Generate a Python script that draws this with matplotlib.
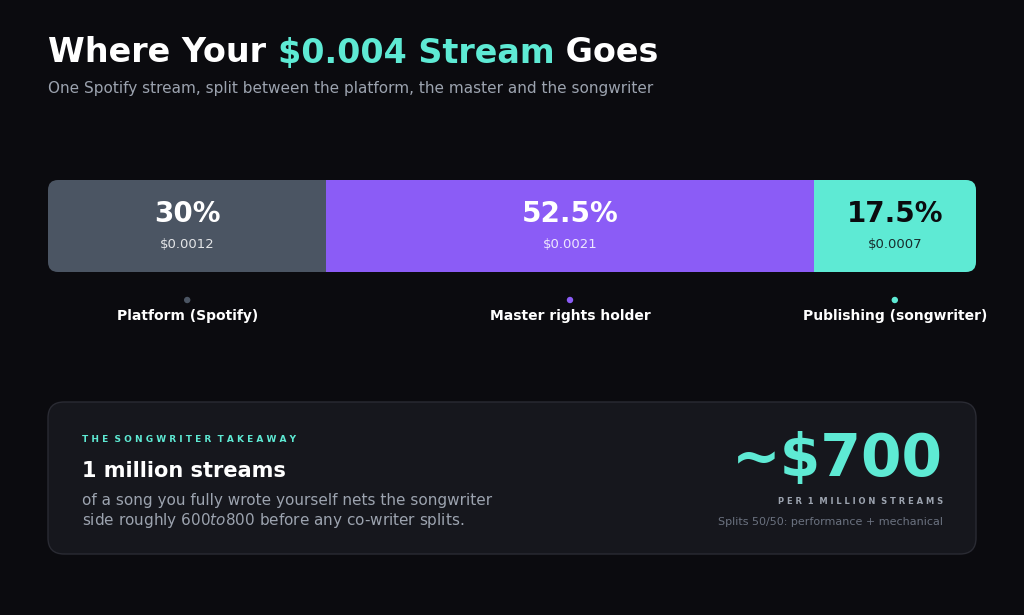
import matplotlib
matplotlib.use("Agg")
import matplotlib.pyplot as plt
from matplotlib.patches import Rectangle, FancyBboxPatch, Circle

shares = [30, 52.5, 17.5]
amounts = ["$0.0012", "$0.0021", "$0.0007"]
labels = ["Platform (Spotify)", "Master rights holder", "Publishing (songwriter)"]
colors = ["#4b5563", "#8b5cf6", "#5eead4"]
text_cols = ["white", "white", "#0b0b0f"]

bg = "#0b0b0f"
fig = plt.figure(figsize=(10.24, 6.15), dpi=100, facecolor=bg)
ax = fig.add_axes([0, 0, 1, 1])
ax.set_xlim(0, 1024)
ax.set_ylim(615, 0)
ax.axis("off")
ax.set_facecolor(bg)

# title in pieces
fig.canvas.draw()
r = fig.canvas.get_renderer()
x = 48
for s, c in [("Where Your ", "white"), ("$0.004 Stream", "#5eead4"), (" Goes", "white")]:
    t = ax.text(x, 53, s, color=c, fontsize=24, fontweight="bold", va="center", ha="left")
    bb = t.get_window_extent(r)
    x += bb.width
ax.text(48, 89, "One Spotify stream, split between the platform, the master and the songwriter",
        color="#9ca3af", fontsize=11, va="center")

# stacked bar
x0, x1, y0, y1 = 48, 976, 180, 272
clip = FancyBboxPatch((x0, y0), x1 - x0, y1 - y0, boxstyle="round,pad=0,rounding_size=10",
                      facecolor="none", edgecolor="none")
ax.add_patch(clip)
left = x0
for sh, amt, lab, col, tc in zip(shares, amounts, labels, colors, text_cols):
    w = (x1 - x0) * sh / 100
    rect = Rectangle((left, y0), w, y1 - y0, facecolor=col, edgecolor="none")
    ax.add_patch(rect)
    rect.set_clip_path(clip)
    cx = left + w / 2
    ax.text(cx, 214, f"{sh:g}%", color=tc, fontsize=20, fontweight="bold", ha="center", va="center")
    ax.text(cx, 244, amt, color=tc, fontsize=9.5, ha="center", va="center", alpha=0.85)
    ax.add_patch(Circle((cx, 300), 3.2, facecolor=col, edgecolor="none"))
    ax.text(cx, 316, lab, color="white", fontsize=10, fontweight="bold", ha="center", va="center")
    left += w

# card
ax.add_patch(FancyBboxPatch((48, 402), 928, 152, boxstyle="round,pad=0,rounding_size=16",
                            facecolor="#16171d", edgecolor="#2a2b33", linewidth=1))
ax.text(82, 440, "T H E   S O N G W R I T E R   T A K E A W A Y".replace("   ", "  "),
        color="#5eead4", fontsize=6.5, fontweight="bold", va="center")
ax.text(82, 471, "1 million streams", color="white", fontsize=15, fontweight="bold", va="center")
ax.text(82, 500, "of a song you fully wrote yourself nets the songwriter", color="#9ca3af",
        fontsize=11, va="center")
ax.text(82, 521, "side roughly $600 to $800 before any co-writer splits.", color="#9ca3af",
        fontsize=11, va="center")
ax.text(943, 460, "~$700", color="#5eead4", fontsize=42, fontweight="bold", ha="right", va="center")
ax.text(943, 501, "P E R  1  M I L L I O N  S T R E A M S", color="#9ca3af", fontsize=6,
        fontweight="bold", ha="right", va="center")
ax.text(943, 522, "Splits 50/50: performance + mechanical", color="#6b7280", fontsize=8,
        ha="right", va="center")

fig.savefig("out.png", dpi=100, facecolor=bg)
